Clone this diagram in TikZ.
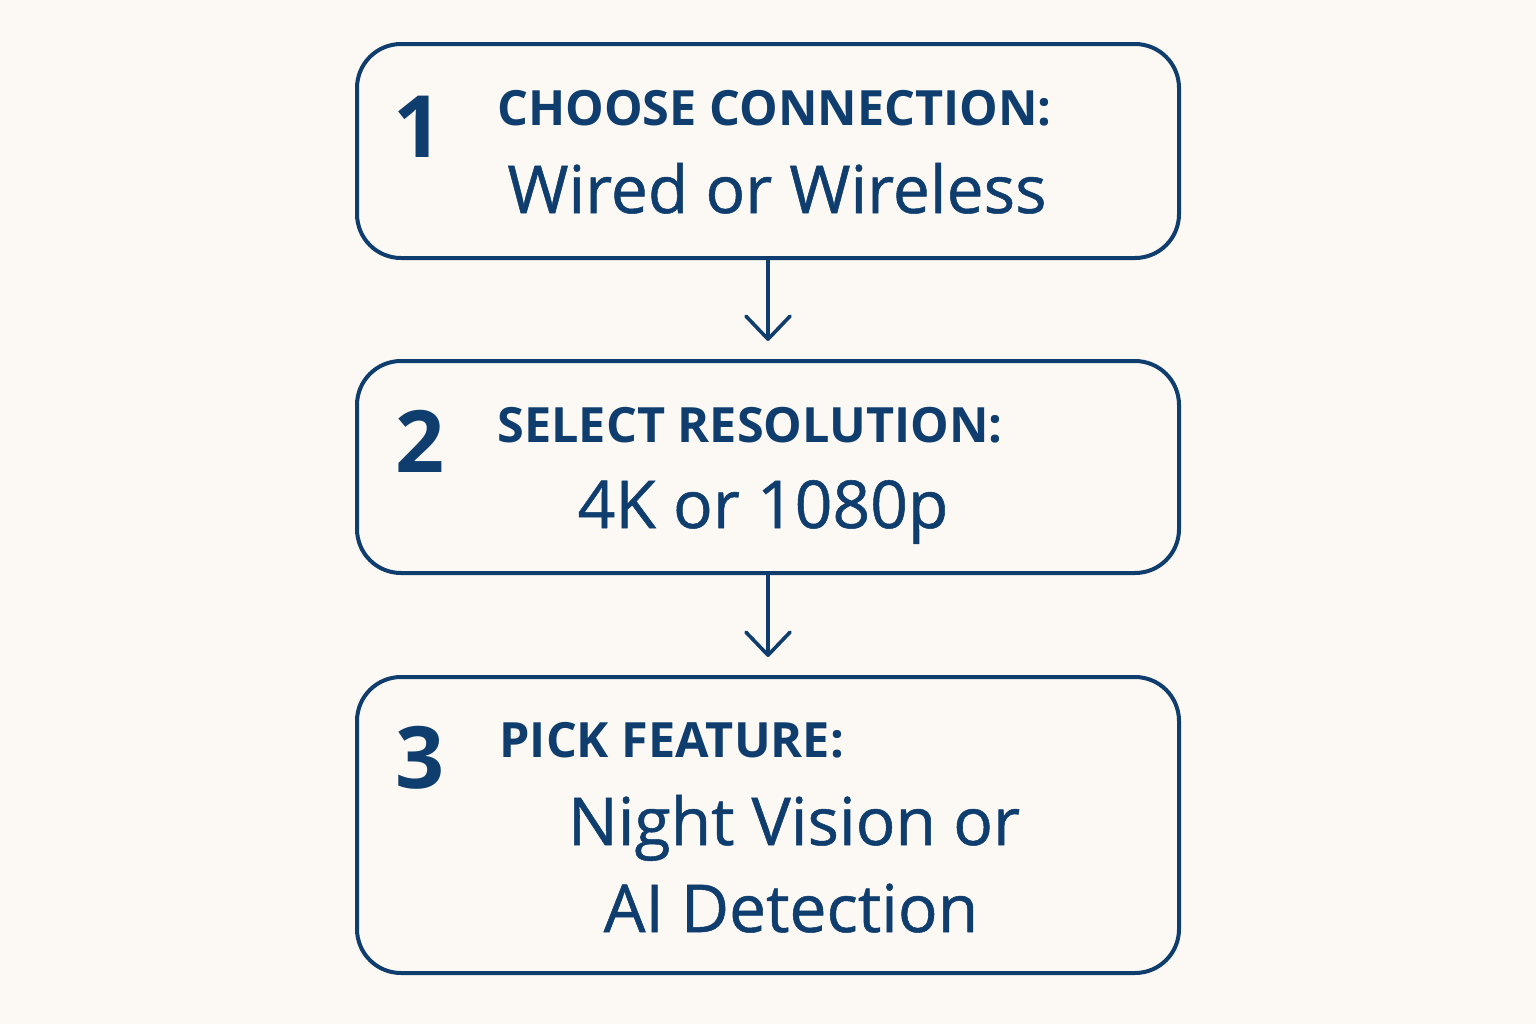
\documentclass[tikz,border=0pt]{standalone}
\usepackage{fontspec}
\setmainfont{Open Sans}
\newfontfamily\choicefont[FakeBold=0.8]{Open Sans}
\usetikzlibrary{arrows.meta}
\definecolor{navy}{HTML}{0F3E6E}
\definecolor{paper}{HTML}{FCF9F5}
\begin{document}
\begin{tikzpicture}[x=0.5pt, y=-0.5pt,
	stepbox/.style={draw=navy, line width=2pt, rounded corners=22pt, minimum width=411pt},
	stepnum/.style={navy, inner sep=0pt, font=\fontsize{43}{43}\selectfont\bfseries, anchor=base},
	steptitle/.style={navy, inner sep=0pt, font=\fontsize{24.3}{24.3}\selectfont\bfseries, anchor=base west},
	stepchoice/.style={navy, inner sep=0pt, font=\fontsize{33}{33}\selectfont\choicefont, anchor=base},
	flow/.style={navy, line width=1.8pt, line cap=round, shorten >=9pt,
		-{Straight Barb[length=11.5pt, width=22pt, round]}}]
	\fill[paper] (0,0) rectangle (1536,1024);
	\node[stepbox, minimum height=107pt] (choose) at (768,151) {};
	\node[stepbox, minimum height=106pt] (select) at (768,467) {};
	\node[stepbox, minimum height=148pt] (pick) at (768,825) {};
	\draw[flow] (choose.south) -- (select.north);
	\draw[flow] (select.south) -- (pick.north);
	% step 1
	\node[stepnum] (n1) at (418,157) {1};
	\node[steptitle] (t1) at (497,125) {CHOOSE CONNECTION:};
	\node[stepchoice] (c1) at (777,213) {Wired or Wireless};
	% step 2
	\node[stepnum] (n2) at (420,472) {2};
	\node[steptitle] (t2) at (497,442) {SELECT RESOLUTION:};
	\node[stepchoice] (c2) at (763,528) {4K or 1080p};
	% step 3
	\node[stepnum] (n3) at (420,788) {3};
	\node[steptitle] (t3) at (499,757) {PICK FEATURE:};
	\node[stepchoice] (c3a) at (794,845) {Night Vision or};
	\node[stepchoice] (c3b) at (791,932) {AI Detection};
\end{tikzpicture}
\end{document}
